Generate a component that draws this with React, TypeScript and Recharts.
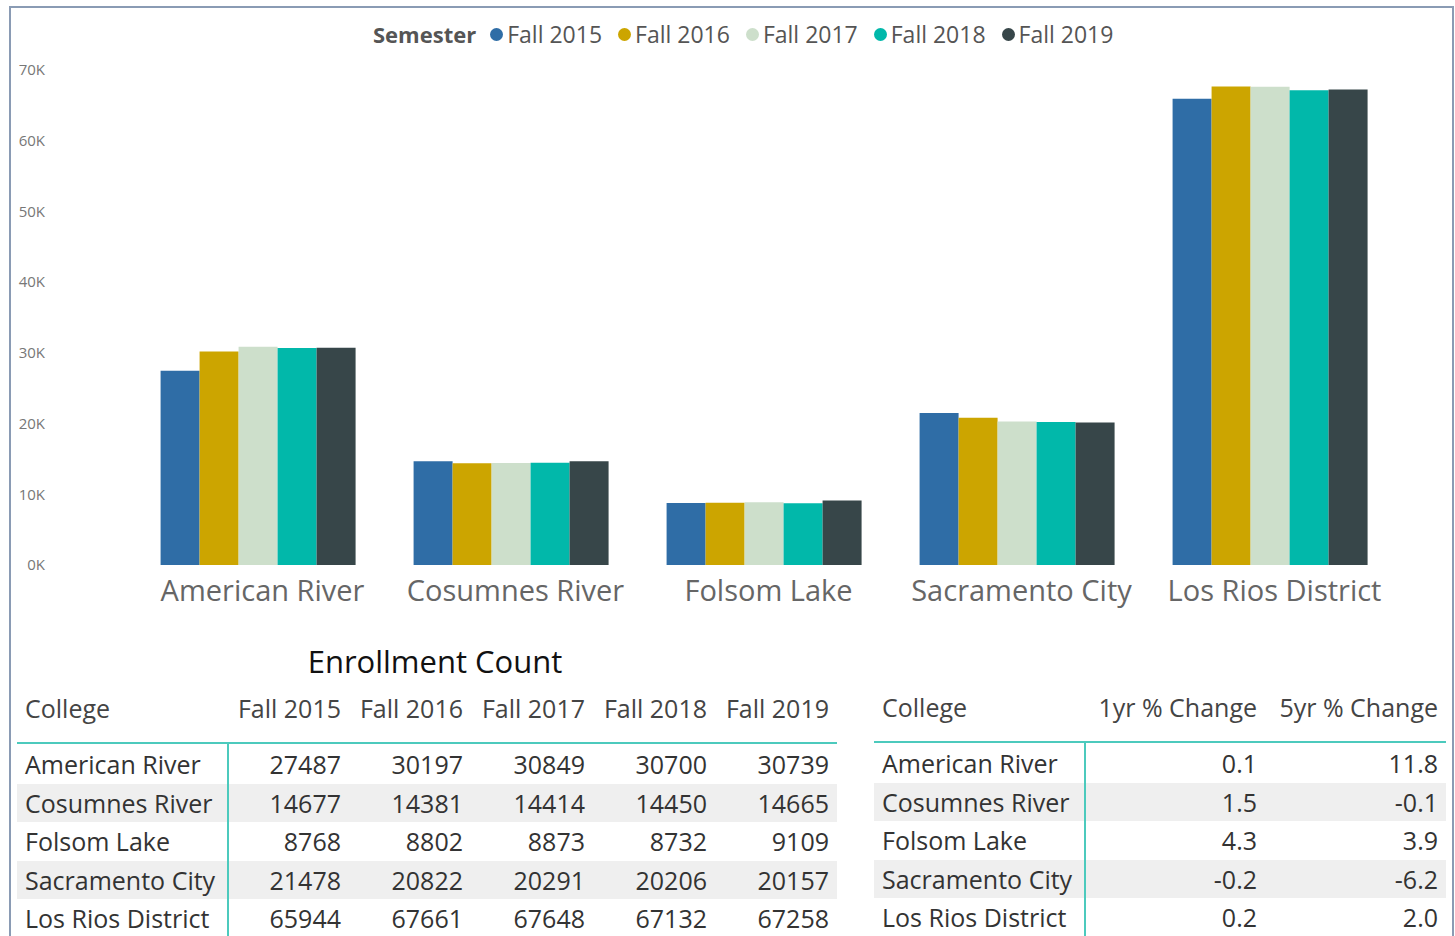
import React from "react";
import { BarChart, Bar, XAxis, YAxis, Legend } from "recharts";

const colleges = [
  "American River",
  "Cosumnes River",
  "Folsom Lake",
  "Sacramento City",
  "Los Rios District",
];
const semesters = ["Fall 2015", "Fall 2016", "Fall 2017", "Fall 2018", "Fall 2019"];
const fall2015 = [27487, 14677, 8768, 21478, 65944];
const fall2016 = [30197, 14381, 8802, 20822, 67661];
const fall2017 = [30849, 14414, 8873, 20291, 67648];
const fall2018 = [30700, 14450, 8732, 20206, 67132];
const fall2019 = [30739, 14665, 9109, 20157, 67258];
const oneYrChange = ["0.1", "1.5", "4.3", "-0.2", "0.2"];
const fiveYrChange = ["11.8", "-0.1", "3.9", "-6.2", "2.0"];
const yTicks = [0, 10000, 20000, 30000, 40000, 50000, 60000, 70000];

const COLORS = ["#2F6DA6", "#CCA500", "#CDDFCB", "#01B8AA", "#374649"];
const series = [fall2015, fall2016, fall2017, fall2018, fall2019];

const FONT = "'Open Sans', 'Noto Sans', sans-serif";
const TEAL = "#4ccabd";

const data = colleges.map((c, i) => {
  const row: Record<string, string | number> = { college: c };
  semesters.forEach((s, j) => {
    row[s] = series[j][i];
  });
  return row;
});

function LegendContent({ payload }: any) {
  return (
    <div
      style={{
        display: "flex",
        alignItems: "center",
        fontFamily: FONT,
        fontSize: 23,
        color: "#555",
        whiteSpace: "nowrap",
      }}
    >
      <span style={{ fontWeight: 700, marginRight: 14, fontSize: 22 }}>Semester</span>
      {(payload || []).map((p: any) => (
        <span
          key={p.value}
          style={{ display: "flex", alignItems: "center", marginRight: 16 }}
        >
          <span
            style={{
              width: 13,
              height: 13,
              borderRadius: "50%",
              background: p.color,
              display: "inline-block",
              marginRight: 4,
            }}
          />
          {p.value}
        </span>
      ))}
    </div>
  );
}

const rowH = 38.6;
const tableText: React.CSSProperties = {
  position: "absolute",
  fontFamily: FONT,
  fontSize: 25,
  color: "#333",
  lineHeight: "30px",
  whiteSpace: "nowrap",
};

function EnrollmentTable() {
  const colW = 122;
  const left = 17;
  const firstW = 210;
  const tableW = firstW + colW * 5;
  const bodyTop = 746;
  return (
    <>
      <div
        style={{
          ...tableText,
          left: left + 8,
          width: tableW,
          top: 643,
          fontSize: 31,
          color: "#111",
          textAlign: "center",
          lineHeight: "36px",
        }}
      >
        Enrollment Count
      </div>
      <div style={{ ...tableText, left: left + 8, top: 693, color: "#444" }}>College</div>
      {semesters.map((s, j) => (
        <div
          key={s}
          style={{
            ...tableText,
            left: left + firstW + j * colW - 20,
            width: colW + 12,
            textAlign: "right",
            top: 693,
            color: "#444",
          }}
        >
          {s}
        </div>
      ))}
      <div
        style={{
          position: "absolute",
          left,
          top: 742,
          width: tableW,
          height: 2,
          background: TEAL,
        }}
      />
      {colleges.map((c, i) => (
        <React.Fragment key={c}>
          {i % 2 === 1 && (
            <div
              style={{
                position: "absolute",
                left,
                width: tableW,
                top: bodyTop + i * rowH - 1,
                height: rowH,
                background: "#efefef",
              }}
            />
          )}
          <div style={{ ...tableText, left: left + 8, top: bodyTop + i * rowH + 3 }}>{c}</div>
          {series.map((arr, j) => (
            <div
              key={j}
              style={{
                ...tableText,
                left: left + firstW + j * colW,
                width: colW - 8,
                textAlign: "right",
                top: bodyTop + i * rowH + 3,
              }}
            >
              {arr[i]}
            </div>
          ))}
        </React.Fragment>
      ))}
      <div
        style={{
          position: "absolute",
          left: left + firstW,
          top: 744,
          width: 2,
          height: 200,
          background: TEAL,
        }}
      />
    </>
  );
}

function ChangeTable() {
  const left = 874;
  const firstW = 210;
  const colW = 181;
  const tableW = firstW + colW * 2;
  const bodyTop = 745;
  const heads = ["1yr % Change", "5yr % Change"];
  const cols = [oneYrChange, fiveYrChange];
  return (
    <>
      <div style={{ ...tableText, left: left + 8, top: 692, color: "#444" }}>College</div>
      {heads.map((h, j) => (
        <div
          key={h}
          style={{
            ...tableText,
            left: left + firstW + j * colW - 20,
            width: colW + 12,
            textAlign: "right",
            top: 692,
            color: "#444",
          }}
        >
          {h}
        </div>
      ))}
      <div
        style={{
          position: "absolute",
          left,
          top: 741,
          width: tableW,
          height: 2,
          background: TEAL,
        }}
      />
      {colleges.map((c, i) => (
        <React.Fragment key={c}>
          {i % 2 === 1 && (
            <div
              style={{
                position: "absolute",
                left,
                width: tableW,
                top: bodyTop + i * rowH - 1,
                height: rowH,
                background: "#efefef",
              }}
            />
          )}
          <div style={{ ...tableText, left: left + 8, top: bodyTop + i * rowH + 3 }}>{c}</div>
          {cols.map((arr, j) => (
            <div
              key={j}
              style={{
                ...tableText,
                left: left + firstW + j * colW,
                width: colW - 8,
                textAlign: "right",
                top: bodyTop + i * rowH + 3,
              }}
            >
              {arr[i]}
            </div>
          ))}
        </React.Fragment>
      ))}
      <div
        style={{
          position: "absolute",
          left: left + firstW,
          top: 743,
          width: 2,
          height: 200,
          background: TEAL,
        }}
      />
    </>
  );
}

export default function App() {
  return (
    <div
      style={{
        position: "absolute",
        left: 0,
        top: 0,
        width: 1455,
        height: 936,
        overflow: "hidden",
        background: "#fff",
        fontFamily: FONT,
      }}
    >
      <div
        style={{
          position: "absolute",
          left: 9,
          top: 6,
          width: 1441,
          height: 940,
          borderLeft: "2px solid #8a9bb4",
          borderTop: "2px solid #8a9bb4",
          borderRight: "2px solid #8a9bb4",
        }}
      />
      <div style={{ position: "absolute", left: 0, top: 0 }}>
        <BarChart
          width={1455}
          height={620}
          data={data}
          margin={{ top: 70, right: 58, left: 0, bottom: 0 }}
          barGap={0}
          barCategoryGap="11.3%"
        >
          <XAxis
            dataKey="college"
            axisLine={false}
            tickLine={false}
            height={55}
            tickSize={0}
            tickMargin={15}
            interval={0}
            tick={{ fontSize: 29, fill: "#666", fontFamily: FONT, dx: 4 }}
          />
          <YAxis
            width={132}
            domain={[0, 70000]}
            ticks={yTicks}
            axisLine={false}
            tickLine={false}
            tickSize={0}
            tickMargin={87}
            tickFormatter={(v: number) => `${v / 1000}K`}
            tick={{ fontSize: 15, fill: "#777", fontFamily: FONT }}
          />
          <Legend
            verticalAlign="middle"
            align="center"
            layout="horizontal"
            content={<LegendContent />}
            wrapperStyle={{ position: "absolute", left: 373, top: 18, width: 800 }}
          />
          {semesters.map((s, j) => (
            <Bar key={s} dataKey={s} fill={COLORS[j]} isAnimationActive={false} />
          ))}
        </BarChart>
      </div>
      <EnrollmentTable />
      <ChangeTable />
    </div>
  );
}
